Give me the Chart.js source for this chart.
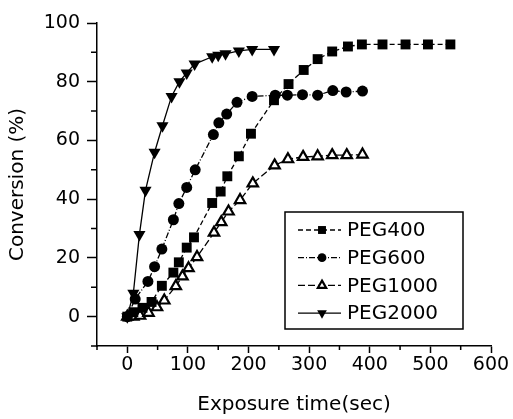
<!DOCTYPE html>
<html>
<head>
<meta charset="utf-8">
<script src="https://cdn.jsdelivr.net/npm/chart.js@4.4.1/dist/chart.umd.min.js"></script>
<style>
  html, body { margin: 0; padding: 0; background: #fff; }
</style>
</head>
<body>
<canvas id="chart" width="513" height="419"></canvas>
<script>
// Conversion vs exposure time, four PEG grades

const seriesNames = ['PEG400', 'PEG600', 'PEG1000', 'PEG2000'];

const peg400Time = [0, 10, 25, 40, 57, 76, 85, 98, 110, 140, 154, 165, 184, 204, 242, 266, 291, 314, 338, 364, 387, 421, 459, 496, 533];
const peg400Conv = [0, 1.5, 3, 5, 10.5, 15, 18.5, 23.5, 27, 38.7, 42.6, 47.8, 54.6, 62.3, 73.7, 79.2, 84, 87.7, 90.3, 92, 92.7, 92.7, 92.7, 92.7, 92.7];

const peg600Time = [0, 13, 34, 45, 57, 76, 85, 98, 112, 142, 151, 164, 181, 206, 244, 264, 289, 314, 339, 361, 388];
const peg600Conv = [0, 6, 12, 17, 23, 33, 38.5, 44, 50, 62, 66, 69, 73, 75, 75.4, 75.4, 75.6, 75.4, 77, 76.5, 76.8];

const peg1000Time = [0, 10, 21, 35, 49, 61, 80, 91, 101, 115, 143, 155, 167, 186, 207, 243, 265, 290, 314, 338, 362, 388];
const peg1000Conv = [0, 0, 0.3, 1.3, 3.2, 5.5, 10.4, 13.7, 16.5, 20.3, 28.6, 32.2, 35.8, 39.7, 45.4, 51.5, 53.6, 54.4, 54.6, 55, 55, 55.2];

const peg2000Time = [0, 10, 20, 30, 45, 58, 73, 86, 98, 111, 140, 150, 162, 184, 206, 242];
const peg2000Conv = [0, 8, 28, 43, 56, 65, 75, 80, 83, 86, 88.5, 89, 89.5, 90.5, 91, 91];

const xTicks = [0, 100, 200, 300, 400, 500, 600];
const xMinorTicks = [-50, 50, 150, 250, 350, 450, 550];
const yTicks = [0, 20, 40, 60, 80, 100];
const yMinorTicks = [-10, 10, 30, 50, 70, 90];

const FONT = 'DejaVu Sans';

function toPoints(xs, ys) {
    return xs.map((x, i) => ({ x: x, y: ys[i] }));
}

const datasets = [
    {
        label: seriesNames[0],
        data: toPoints(peg400Time, peg400Conv),
        borderDash: [5, 3],
        pointStyle: 'rect',
        pointRadius: 7,
        pointBackgroundColor: '#000',
        pointBorderWidth: 0
    },
    {
        label: seriesNames[1],
        data: toPoints(peg600Time, peg600Conv),
        borderDash: [6, 2, 1, 2],
        pointStyle: 'circle',
        pointRadius: 5.5,
        pointBackgroundColor: '#000',
        pointBorderWidth: 0
    },
    {
        label: seriesNames[2],
        data: toPoints(peg1000Time, peg1000Conv),
        borderDash: [7, 3],
        pointStyle: 'triangle',
        pointRadius: 6,
        pointBackgroundColor: '#fff',
        pointBorderColor: '#000',
        pointBorderWidth: 2.2
    },
    {
        label: seriesNames[3],
        data: toPoints(peg2000Time, peg2000Conv),
        borderDash: [],
        pointStyle: 'triangle',
        pointRotation: 180,
        pointRadius: 7,
        pointBackgroundColor: '#000',
        pointBorderWidth: 0
    }
];
datasets.forEach(ds => {
    ds.borderColor = '#000';
    ds.borderWidth = 1.3;
    ds.tension = 0;
    ds.fill = false;
});

// small unlabeled ticks between the major ones
const minorTicks = {
    id: 'minorTicks',
    afterDraw(chart) {
        const ctx = chart.ctx;
        const xs = chart.scales.x, ys = chart.scales.y;
        ctx.save();
        ctx.strokeStyle = '#000';
        ctx.lineWidth = 1.5;
        ctx.beginPath();
        xMinorTicks.forEach(v => {
            const px = xs.getPixelForValue(v);
            ctx.moveTo(px, xs.top);
            ctx.lineTo(px, xs.top + 4);
        });
        yMinorTicks.forEach(v => {
            const py = ys.getPixelForValue(v);
            ctx.moveTo(ys.right, py);
            ctx.lineTo(ys.right - 6, py);
        });
        ctx.stroke();
        ctx.restore();
    }
};

// boxed legend inside the plot, lower right
const boxLegend = {
    id: 'boxLegend',
    afterDraw(chart) {
        const ctx = chart.ctx;
        const area = chart.chartArea;
        const left = area.left + 188, top = area.top + 189;
        const w = 178, h = 117;
        ctx.save();
        ctx.fillStyle = '#fff';
        ctx.fillRect(left, top, w, h);
        ctx.strokeStyle = '#000';
        ctx.lineWidth = 1.5;
        ctx.strokeRect(left, top, w, h);

        chart.data.datasets.forEach((ds, i) => {
            const y = top + 18 + i * 27.7;
            ctx.setLineDash(ds.borderDash);
            ctx.lineWidth = 1.3;
            ctx.beginPath();
            ctx.moveTo(left + 13, y);
            ctx.lineTo(left + 56, y);
            ctx.stroke();
            ctx.setLineDash([]);
            ctx.fillStyle = ds.pointBackgroundColor;
            ctx.strokeStyle = '#000';
            ctx.lineWidth = ds.pointBorderWidth;
            Chart.helpers.drawPoint(ctx, {
                pointStyle: ds.pointStyle,
                rotation: ds.pointRotation || 0,
                radius: ds.pointRadius * 0.8,
                borderWidth: ds.pointBorderWidth
            }, left + 37, y);
            ctx.fillStyle = '#000';
            ctx.font = '20px "' + FONT + '"';
            ctx.textBaseline = 'middle';
            ctx.textAlign = 'left';
            ctx.fillText(ds.label, left + 62, y + 1);
        });
        ctx.restore();
    }
};

const ctx = document.getElementById('chart');
new Chart(ctx, {
    type: 'line',
    data: { datasets: datasets },
    options: {
        responsive: false,
        animation: false,
        layout: { padding: { top: 23, right: 22, left: 0, bottom: 0 } },
        plugins: {
            legend: { display: false },
            tooltip: { enabled: false }
        },
        scales: {
            x: {
                type: 'linear',
                min: -50,
                max: 600,
                afterBuildTicks: s => { s.ticks = xTicks.map(v => ({ value: v })); },
                afterFit: s => { s.height = 73; },
                ticks: {
                    color: '#000',
                    font: { family: FONT, size: 19 },
                    padding: 1,
                    maxRotation: 0,
                    autoSkip: false
                },
                grid: {
                    drawOnChartArea: false,
                    tickLength: 7,
                    tickColor: '#000',
                    tickWidth: 1.5
                },
                border: { color: '#000', width: 1.5 },
                title: {
                    display: true,
                    text: 'Exposure time(sec)',
                    color: '#000',
                    font: { family: FONT, size: 20 },
                    padding: { top: 0, bottom: 2 }
                }
            },
            y: {
                type: 'linear',
                min: -10,
                max: 100,
                afterBuildTicks: s => { s.ticks = yTicks.map(v => ({ value: v })); },
                afterFit: s => { s.width = 97; },
                ticks: {
                    color: '#000',
                    font: { family: FONT, size: 19 },
                    padding: 7,
                    autoSkip: false
                },
                grid: {
                    drawOnChartArea: false,
                    tickLength: 10,
                    tickColor: '#000',
                    tickWidth: 1.5
                },
                border: { color: '#000', width: 1.5 },
                title: {
                    display: true,
                    text: 'Conversion (%)',
                    color: '#000',
                    font: { family: FONT, size: 20 },
                    padding: { top: 6, bottom: 0 }
                }
            }
        }
    },
    plugins: [minorTicks, boxLegend]
});
</script>
</body>
</html>
